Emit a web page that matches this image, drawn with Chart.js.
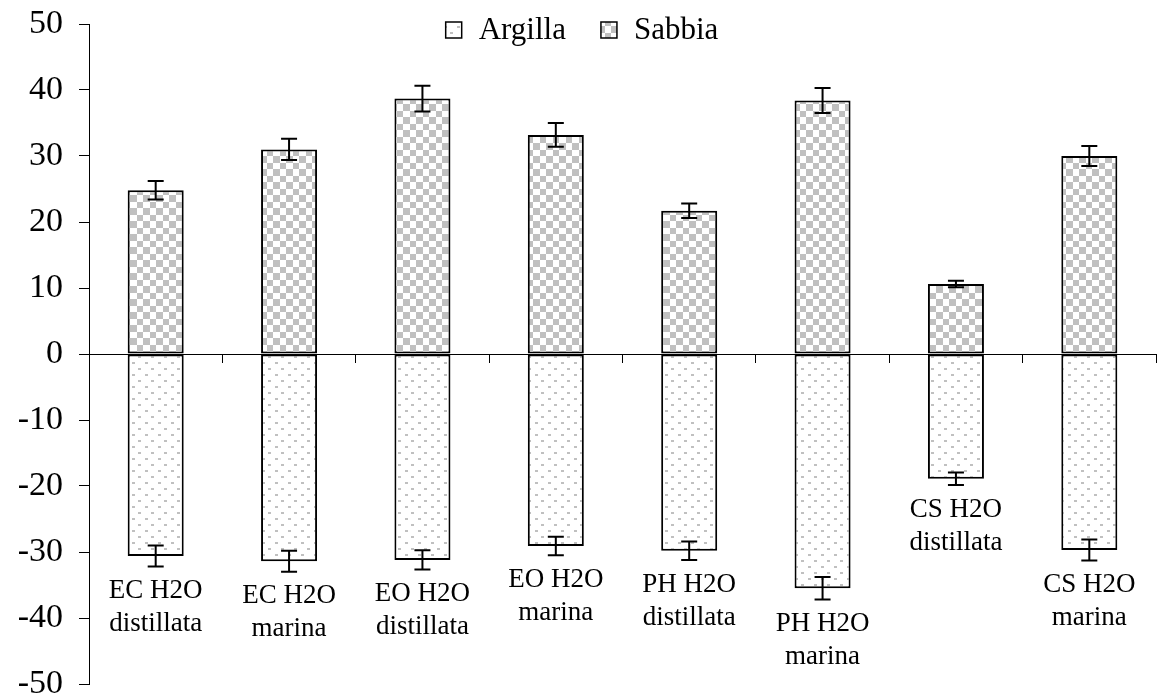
<!DOCTYPE html>
<html>
<head>
<meta charset="utf-8">
<script src="https://cdn.jsdelivr.net/npm/chart.js@4.4.0/dist/chart.umd.min.js"></script>
<style>
  html, body { margin: 0; padding: 0; background: #fff; }
</style>
</head>
<body>
<canvas id="grafico" width="1157" height="700"></canvas>
<script>
// dati
var categorie = [
    ['EC H2O', 'distillata'],
    ['EC H2O', 'marina'],
    ['EO H2O', 'distillata'],
    ['EO H2O', 'marina'],
    ['PH H2O', 'distillata'],
    ['PH H2O', 'marina'],
    ['CS H2O', 'distillata'],
    ['CS H2O', 'marina']
];
var argilla = [-30.6, -31.4, -31.2, -29.1, -29.8, -35.5, -18.9, -29.7];
var erroreArgilla = [1.6, 1.6, 1.45, 1.4, 1.4, 1.7, 0.95, 1.6];
var sabbia = [24.8, 31.0, 38.7, 33.2, 21.7, 38.4, 10.6, 30.0];
var erroreSabbia = [1.4, 1.6, 1.95, 1.8, 1.1, 1.9, 0.5, 1.5];
var tickY = [-50, -40, -30, -20, -10, 0, 10, 20, 30, 40, 50];

var FONT = '"Liberation Serif", "Times New Roman", serif';

// retini
function scacchi() {
    var c = document.createElement('canvas');
    c.width = 13; c.height = 13;
    var g = c.getContext('2d');
    g.fillStyle = '#ffffff';
    g.fillRect(0, 0, 13, 13);
    g.fillStyle = '#c0c0c0';
    g.fillRect(0, 0, 7, 7);
    g.fillRect(7, 7, 6, 6);
    return g.createPattern(c, 'repeat');
}
function puntini() {
    var c = document.createElement('canvas');
    c.width = 13; c.height = 12;
    var g = c.getContext('2d');
    g.fillStyle = '#ffffff';
    g.fillRect(0, 0, 13, 12);
    g.fillStyle = '#c0c0c0';
    g.fillRect(2, 2, 3, 2);
    g.fillRect(8, 8, 3, 2);
    return g.createPattern(c, 'repeat');
}

var retinoArgilla = puntini();
var retinoSabbia = scacchi();

// barre d'errore + etichette sotto le barre negative
var barreErrore = {
    id: 'barreErrore',
    afterDatasetsDraw: function (chart) {
        var ctx = chart.ctx;
        var y = chart.scales.y;
        var errori = [erroreArgilla, erroreSabbia];
        ctx.save();
        ctx.strokeStyle = '#000';
        ctx.lineWidth = 2;
        chart.data.datasets.forEach(function (ds, d) {
            var meta = chart.getDatasetMeta(d);
            meta.data.forEach(function (bar, i) {
                var v = ds.data[i];
                var e = errori[d][i];
                var yA = y.getPixelForValue(v + e);
                var yB = y.getPixelForValue(v - e);
                ctx.beginPath();
                ctx.moveTo(bar.x, yA); ctx.lineTo(bar.x, yB);
                ctx.moveTo(bar.x - 8, yA); ctx.lineTo(bar.x + 8, yA);
                ctx.moveTo(bar.x - 8, yB); ctx.lineTo(bar.x + 8, yB);
                ctx.stroke();
            });
        });

        // nomi dei campioni
        ctx.fillStyle = '#000';
        ctx.font = '27px ' + FONT;
        ctx.textAlign = 'center';
        ctx.textBaseline = 'top';
        var meta0 = chart.getDatasetMeta(0);
        meta0.data.forEach(function (bar, i) {
            var base = y.getPixelForValue(argilla[i] - erroreArgilla[i]) + 11;
            var righe = chart.data.labels[i];
            righe.forEach(function (r, k) {
                ctx.fillText(r, bar.x, base + k * 33);
            });
        });
        ctx.restore();
    }
};

// legenda in alto, dentro l'area
var legenda = {
    id: 'legenda',
    afterDraw: function (chart) {
        var ctx = chart.ctx;
        ctx.save();
        ctx.font = '31px ' + FONT;
        ctx.textBaseline = 'middle';
        ctx.textAlign = 'left';
        var box = 16, gap = 17, spazio = 35;
        var ds = chart.data.datasets;
        var tot = 0;
        ds.forEach(function (d, i) {
            tot += box + gap + ctx.measureText(d.label).width;
            if (i < ds.length - 1) tot += spazio;
        });
        var x = 582 - tot / 2;
        var yc = 30;
        ds.forEach(function (d) {
            ctx.fillStyle = d.backgroundColor;
            ctx.fillRect(x, yc - box / 2, box, box);
            ctx.strokeStyle = '#000';
            ctx.lineWidth = 1.5;
            ctx.strokeRect(x, yc - box / 2, box, box);
            x += box + gap;
            ctx.fillStyle = '#000';
            ctx.fillText(d.label, x, yc + 1);
            x += ctx.measureText(d.label).width + spazio;
        });
        ctx.restore();
    }
};

var ctx = document.getElementById('grafico');
var grafico = new Chart(ctx, {
    type: 'bar',
    data: {
        labels: categorie,
        datasets: [{
                label: 'Argilla',
                data: argilla,
                backgroundColor: retinoArgilla,
                borderColor: '#000',
                borderWidth: 2,
                borderSkipped: false
            },
            {
                label: 'Sabbia',
                data: sabbia,
                backgroundColor: retinoSabbia,
                borderColor: '#000',
                borderWidth: 2,
                borderSkipped: false
            }
        ]
    },
    options: {
        responsive: false,
        animation: false,
        devicePixelRatio: 1,
        layout: {
            padding: { top: 24, bottom: 16, left: 0, right: 1 }
        },
        categoryPercentage: 1,
        barPercentage: 0.42,
        plugins: {
            legend: { display: false },
            tooltip: { enabled: false }
        },
        scales: {
            x: {
                stacked: true,
                position: { y: 0 },
                offset: true,
                ticks: { display: false },
                grid: {
                    display: true,
                    offset: true,
                    drawOnChartArea: false,
                    drawTicks: true,
                    tickLength: 8,
                    color: '#000',
                    lineWidth: 1
                },
                border: { display: true, color: '#000', width: 1 }
            },
            y: {
                stacked: true,
                min: -50,
                max: 50,
                afterBuildTicks: function (scale) {
                    scale.ticks = tickY.map(function (v) { return { value: v }; });
                },
                afterFit: function (scale) {
                    scale.width = 89;
                    scale.paddingTop = 0;
                    scale.paddingBottom = 0;
                },
                ticks: {
                    color: '#000',
                    padding: 16,
                    font: { family: FONT, size: 34 }
                },
                grid: {
                    display: true,
                    drawOnChartArea: false,
                    drawTicks: true,
                    tickLength: 10,
                    color: '#000',
                    lineWidth: 1
                },
                border: { display: true, color: '#000', width: 1 }
            }
        }
    },
    plugins: [barreErrore, legenda]
});
</script>
</body>
</html>
